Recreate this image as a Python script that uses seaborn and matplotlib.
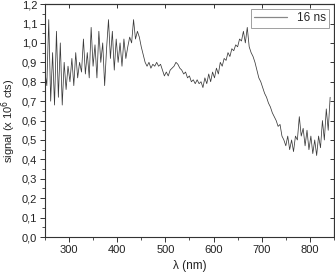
import numpy as np
import pandas as pd
import seaborn as sns
import matplotlib.pyplot as plt
from matplotlib.ticker import MultipleLocator, FuncFormatter

# wavelength grid (nm), 4 nm steps
wavelength = np.arange(250, 850, 4)
# signal (x 10^6 cts)
signal = [
    0.85, 0.78, 1.12, 0.70, 0.95, 0.68, 1.06, 0.72, 1.00, 0.68, 0.90,   # 250-290
    0.76, 0.88, 0.80, 0.92, 0.78, 0.95, 0.82, 0.90, 0.85, 1.02,         # 294-330
    0.84, 0.95, 0.82, 1.08, 0.88, 0.99, 0.82, 1.06, 0.90, 1.00,         # 334-370
    0.78, 0.97, 1.12, 0.92, 1.06, 0.86, 1.02, 0.90, 1.00, 0.88,         # 374-410
    1.02, 0.92, 0.98, 1.03, 1.00, 1.12, 1.02, 1.06, 1.03, 0.98,         # 414-450
    0.94, 0.90, 0.88, 0.90, 0.87, 0.89, 0.88, 0.90, 0.88, 0.89,         # 454-490
    0.86, 0.83, 0.85, 0.83, 0.86, 0.87, 0.88, 0.90, 0.89, 0.87,         # 494-530
    0.86, 0.84, 0.85, 0.82, 0.83, 0.80, 0.81, 0.79, 0.81, 0.79,         # 534-570
    0.80, 0.77, 0.82, 0.79, 0.84, 0.80, 0.85, 0.82, 0.87, 0.84,         # 574-610
    0.90, 0.88, 0.92, 0.91, 0.95, 0.93, 0.97, 0.96, 0.99, 0.98,         # 614-650
    1.02, 1.01, 1.06, 1.00, 1.08, 0.98, 0.95, 0.93, 0.90, 0.86,         # 654-690
    0.82, 0.80, 0.77, 0.74, 0.72, 0.69, 0.67, 0.64, 0.62, 0.60,         # 694-730
    0.57, 0.58, 0.52, 0.50, 0.47, 0.52, 0.45, 0.50, 0.44, 0.52,         # 734-770
    0.50, 0.62, 0.52, 0.56, 0.47, 0.55, 0.45, 0.52, 0.43, 0.50,         # 774-810
    0.42, 0.52, 0.46, 0.60, 0.50, 0.66, 0.55, 0.72,                     # 814-842, 846
]
signal = signal[:len(wavelength)]
wavelength = wavelength[:len(signal)]

df = pd.DataFrame({"wl": wavelength, "sig": signal, "label": "16 ns"})

sns.set_style("ticks")
plt.rcParams['font.family'] = ['Liberation Sans', 'DejaVu Sans']
plt.rcParams['font.size'] = 8

fig = plt.figure(figsize=(3.35, 2.74), dpi=100)
ax = fig.add_axes([0.134, 0.135, 0.863, 0.85])

sns.lineplot(data=df, x="wl", y="sig", hue="label", palette=["#3a3a3a"],
             linewidth=0.55, ax=ax)

ax.set_xlim(250, 850)
ax.set_ylim(0, 1.2)
ax.xaxis.set_major_locator(MultipleLocator(100))
ax.xaxis.set_minor_locator(MultipleLocator(50))
ax.yaxis.set_major_locator(MultipleLocator(0.1))
ax.yaxis.set_minor_locator(MultipleLocator(0.05))
ax.yaxis.set_major_formatter(FuncFormatter(lambda v, p: f"{v:.1f}".replace(".", ",")))
ax.tick_params(which='major', direction='out', length=3.5, width=0.7, labelsize=8,
               pad=2, colors='#333333', labelcolor='#222222')
ax.tick_params(which='minor', direction='out', length=2, width=0.6, colors='#333333')

for s in ax.spines.values():
    s.set_color('#333333')
    s.set_linewidth(0.8)

# inward ticks on top and right
top = ax.secondary_xaxis('top')
top.xaxis.set_major_locator(MultipleLocator(100))
top.tick_params(direction='in', length=3, width=0.7, labeltop=False, colors='#333333')
right = ax.secondary_yaxis('right')
right.yaxis.set_major_locator(MultipleLocator(0.1))
right.tick_params(direction='in', length=3, width=0.7, labelright=False, colors='#333333')

ax.set_xlabel("λ (nm)", fontsize=8.5, color='#222222')
ax.set_ylabel("signal (x 10$^6$ cts)", fontsize=8, color='#222222')
ax.yaxis.set_label_coords(-0.092, 0.5)

leg = ax.legend(loc='upper right', frameon=True, fancybox=False, fontsize=8.5,
                handlelength=2.8, borderpad=0.3, borderaxespad=0.4)
leg.get_frame().set_edgecolor('#888888')
leg.get_frame().set_linewidth(0.7)
for ln in leg.get_lines():
    ln.set_color('#888888')
    ln.set_linewidth(0.9)

fig.savefig("out.png", dpi=100)
